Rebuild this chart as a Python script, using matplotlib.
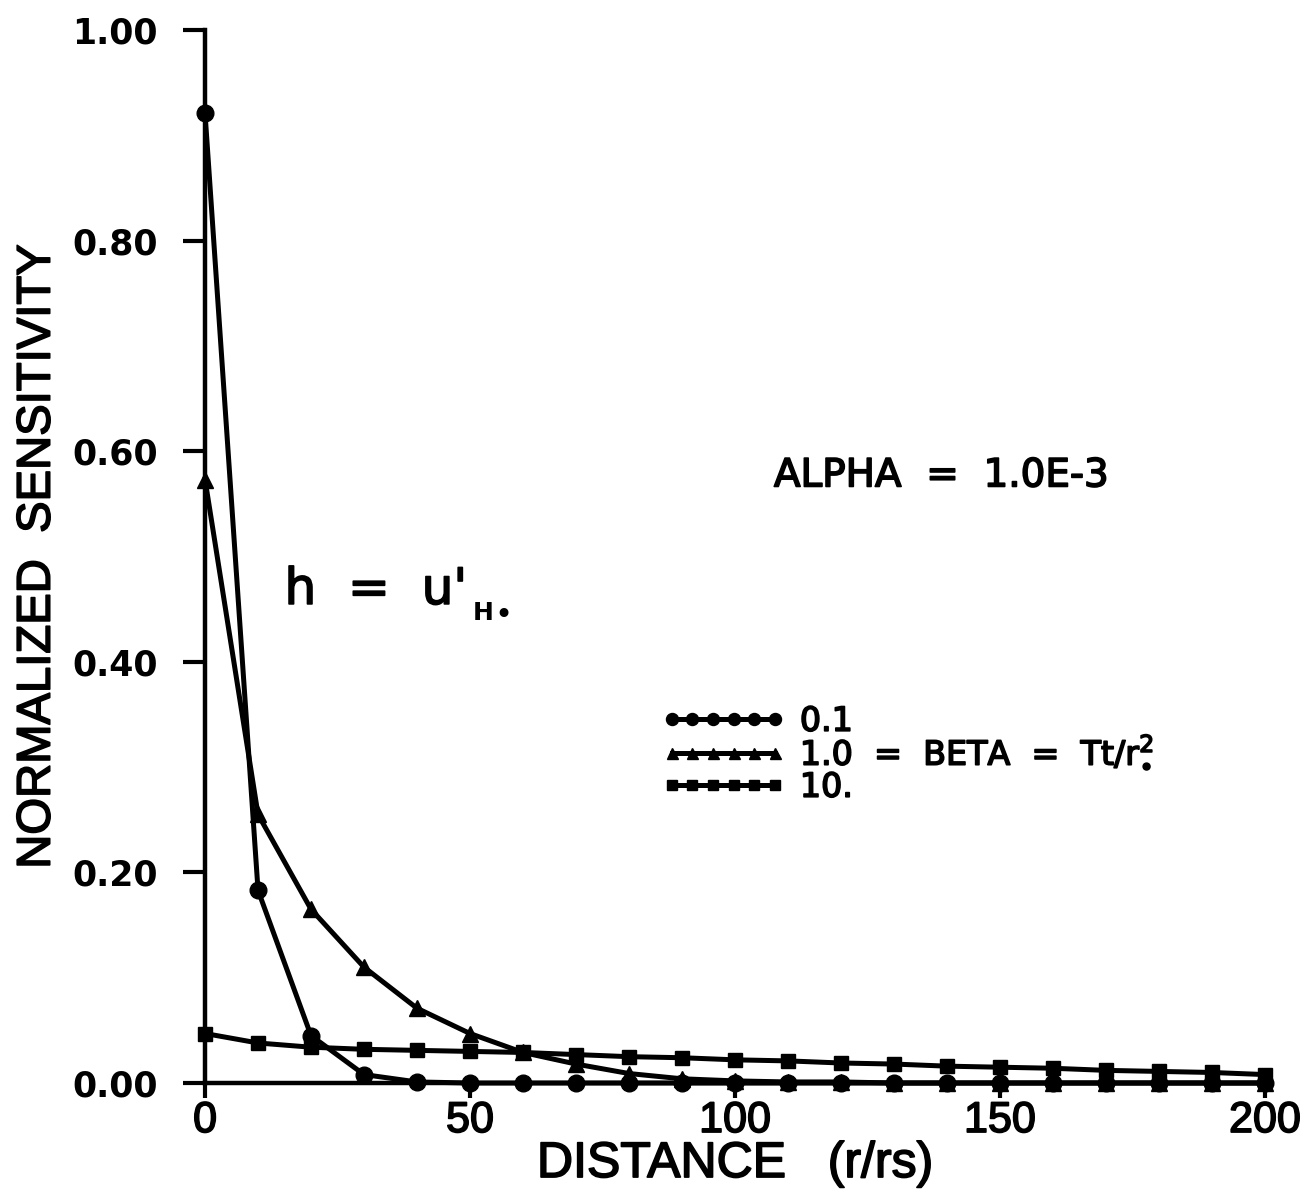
import matplotlib
matplotlib.use("Agg")
import matplotlib.pyplot as plt
import matplotlib.patheffects as pe

# distance r/rs and normalized sensitivity for three BETA values
distance = [0, 10, 20, 30, 40, 50, 60, 70, 80, 90, 100,
            110, 120, 130, 140, 150, 160, 170, 180, 190, 200]
beta_01 = [0.921, 0.183, 0.045, 0.008, 0.001, 0.0, 0.0, 0.0, 0.0, 0.0, 0.0,
           0.0, 0.0, 0.0, 0.0, 0.0, 0.0, 0.0, 0.0, 0.0, 0.0]
beta_10 = [0.573, 0.255, 0.165, 0.110, 0.071, 0.047, 0.029, 0.018, 0.009, 0.004, 0.002,
           0.001, 0.001, 0.0, 0.0, 0.0, 0.0, 0.0, 0.0, 0.0, 0.0]
beta_100 = [0.047, 0.038, 0.034, 0.032, 0.031, 0.030, 0.029, 0.027, 0.025, 0.024, 0.022,
            0.021, 0.019, 0.018, 0.016, 0.015, 0.014, 0.012, 0.011, 0.010, 0.008]
legend_labels = ["0.1", r"1.0  =  BETA  =  Tt/r$_{\bullet}^{2}$", "10."]
x_ticks = [0, 50, 100, 150, 200]
y_ticks = [0.0, 0.2, 0.4, 0.6, 0.8, 1.0]

narrow = "Liberation Sans"
thick = [pe.withStroke(linewidth=1.2, foreground="black")]

fig = plt.figure(figsize=(13.06, 12.02), dpi=100)
ax = fig.add_axes([0.157, 0.099, 0.8115, 0.876])

lw = 3.6
ax.plot(distance, beta_01, "-o", color="black", lw=lw, ms=12, clip_on=False,
        label=legend_labels[0])
ax.plot(distance, beta_10, "-^", color="black", lw=lw, ms=11, clip_on=False,
        label=legend_labels[1])
ax.plot(distance, beta_100, "-s", color="black", lw=lw, ms=10, clip_on=False,
        label=legend_labels[2])

ax.set_xlim(0, 200)
ax.set_ylim(0, 1.0)
for s in ["top", "right"]:
    ax.spines[s].set_visible(False)
for s in ["left", "bottom"]:
    ax.spines[s].set_linewidth(3.2)

ax.set_xticks(x_ticks)
ax.set_xticklabels([str(t) for t in x_ticks], family=narrow, fontsize=31)
ax.set_yticks(y_ticks)
ax.set_yticklabels(["%.2f" % t for t in y_ticks], family="DejaVu Sans",
                   fontweight="bold", fontsize=25)
ax.tick_params(axis="y", direction="out", length=16, width=3, pad=18)
ax.tick_params(axis="x", direction="out", length=11, width=3, pad=2)
for t in ax.get_xticklabels():
    t.set_path_effects(thick)

ax.set_xlabel("DISTANCE   (r/rs)", family=narrow, fontsize=36, labelpad=0,
              path_effects=thick)
ax.set_ylabel("NORMALIZED  SENSITIVITY", family=narrow, fontsize=34, labelpad=9,
              path_effects=thick)

ax.text(139, 0.577, "ALPHA  =  1.0E-3", fontsize=28, ha="center", va="center",
        path_effects=thick)
ax.text(15, 0.455, "h  =  u'", fontsize=36, ha="left", va="baseline",
        path_effects=thick)
ax.text(50.5, 0.44, "H", fontsize=18, fontweight="bold", ha="left", va="baseline")
ax.text(54.6, 0.436, "\u2022", fontsize=22, ha="left", va="baseline")

leg = ax.legend(loc="upper left", bbox_to_anchor=(0.415, 0.375), frameon=False,
                numpoints=6, handlelength=3.7, handletextpad=0.45,
                labelspacing=-0.05, markerscale=0.72, borderpad=0,
                prop={"family": "DejaVu Sans", "size": 24})
for t in leg.get_texts():
    t.set_path_effects(thick)

fig.savefig("out.png", dpi=100)
